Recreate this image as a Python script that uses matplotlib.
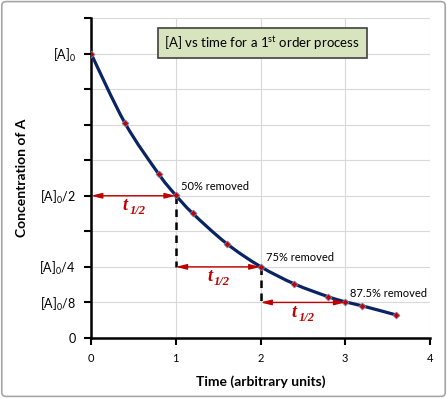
import numpy as np
import matplotlib.pyplot as plt
from matplotlib.path import Path
from matplotlib.patches import PathPatch, FancyBboxPatch

plt.rcParams['font.family'] = ['Lato', 'DejaVu Sans']
plt.rcParams['mathtext.fontset'] = 'custom'
plt.rcParams['mathtext.rm'] = 'Lato'
plt.rcParams['mathtext.bf'] = 'Lato:bold'

# concentration (fraction of [A]0)
time = [0.0, 0.4, 0.8, 1.0, 1.2, 1.6, 2.0, 2.4, 2.8, 3.0, 3.2, 3.6]
conc = [1.0, 0.756, 0.576, 0.502, 0.438, 0.332, 0.251, 0.19, 0.145, 0.127, 0.113, 0.081]

ytick_vals = [0, 0.125, 0.25, 0.5, 1.0]
ytick_labels = ['0', '[A]$_0$/8', '[A]$_0$/4', '[A]$_0$/2', '[A]$_0$']
half_lives = [(0, 1, 0.5), (1, 2, 0.25), (2, 3, 0.125)]
removed = [(1.0, 0.5, '50% removed'), (2.0, 0.25, '75% removed'), (3.0, 0.125, '87.5% removed')]

fig = plt.figure(figsize=(4.47, 3.98), dpi=100)
ax = fig.add_axes([0.2036, 0.1508, 0.962 - 0.2036, 0.9548 - 0.1508])

# outer chart border
fig.patches.append(FancyBboxPatch((0.004, 0.004), 0.992, 0.992, boxstyle='round,pad=0,rounding_size=0.01',
                                  transform=fig.transFigure, fc='none', ec='#a6a6a6', lw=1.2))

# smooth line through the points (Catmull-Rom as cubic bezier)
x = np.array(time)
y = np.array(conc)
verts = [(x[0], y[0])]
codes = [Path.MOVETO]
for i in range(len(x) - 1):
    p0 = np.array([x[max(i - 1, 0)], y[max(i - 1, 0)]])
    p1 = np.array([x[i], y[i]])
    p2 = np.array([x[i + 1], y[i + 1]])
    p3 = np.array([x[min(i + 2, len(x) - 1)], y[min(i + 2, len(x) - 1)]])
    c1 = p1 + (p2 - p0) / 6
    c2 = p2 - (p3 - p1) / 6
    verts += [tuple(c1), tuple(c2), tuple(p2)]
    codes += [Path.CURVE4] * 3
ax.add_patch(PathPatch(Path(verts, codes), fc='none', ec='#0a2463', lw=2.3, zorder=3))
ax.plot(time, conc, ls='none', marker='D', ms=3.5, mfc='#c00000', mec='#7f7fb0', mew=0.6, zorder=4)

# half-life arrows and dashed drops
tfont = dict(family='Liberation Serif', style='italic', weight='bold', color='#c00000')
for x0, x1, yy in half_lives:
    ax.annotate('', xy=(x0, yy), xytext=(x1, yy),
                arrowprops=dict(arrowstyle='<|-|>,head_length=0.8,head_width=0.2', color='#c00000', lw=1.0,
                                mutation_scale=8, shrinkA=0, shrinkB=0), zorder=5)
    tx = (x0 + x1) / 2 - 0.13
    ty = yy - 0.05
    ax.text(tx, ty, 't', fontsize=13, ha='left', va='baseline', zorder=5, **tfont)
    ax.annotate('1/2', xy=(tx, ty), xytext=(5, -3), textcoords='offset points',
                fontsize=9, ha='left', va='baseline', zorder=5, **tfont)
ax.plot([1, 1], [0.5, 0.25], color='black', lw=1.8, dashes=(3, 2.2), zorder=2)
ax.plot([2, 2], [0.25, 0.125], color='black', lw=1.8, dashes=(3, 2.2), zorder=2)

for xx, yy, txt in removed:
    ax.text(xx + 0.06, yy + 0.033, txt, fontsize=8, ha='left', va='center', color='black', zorder=5)

# title box
ax.text(0.505, 0.922, r'[A] vs time for a 1$^{\mathrm{st}}$ order process', transform=ax.transAxes,
        ha='center', va='center', fontsize=9.5,
        bbox=dict(boxstyle='square,pad=0.5', fc='#d7e4bd', ec='#404040', lw=1.2), zorder=6)

ax.set_xlim(0, 4)
ax.set_ylim(0, 1.125)
ax.set_xticks([0, 1, 2, 3, 4])
ax.set_yticks(np.arange(0, 1.126, 0.125), minor=False)
ax.set_yticklabels([ytick_labels[ytick_vals.index(v)] if v in ytick_vals else '' for v in np.arange(0, 1.126, 0.125)])
ax.grid(True, color='#d9d9d9', lw=0.8)
ax.set_axisbelow(True)
for s in ['top', 'right']:
    ax.spines[s].set_visible(False)
for s in ['left', 'bottom']:
    ax.spines[s].set_linewidth(1.8)
ax.tick_params(axis='both', length=5, width=1.5, labelsize=9, pad=6)
ax.tick_params(axis='x', labelsize=8)

ax.set_xlabel('Time (arbitrary units)', fontsize=10, fontweight='bold', labelpad=8)
ax.set_ylabel('Concentration of A', fontsize=10, fontweight='bold', labelpad=8)

fig.savefig('out.png', dpi=100)
